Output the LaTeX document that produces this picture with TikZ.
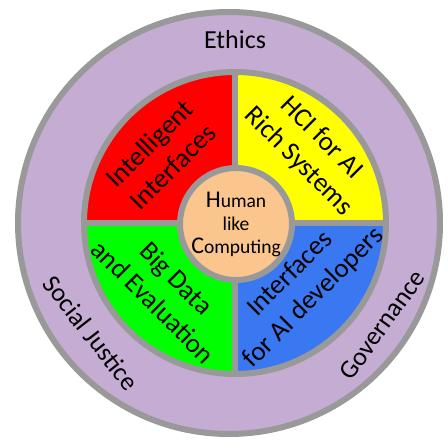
\documentclass[tikz,border=0pt]{standalone}
\usepackage{fontspec}
\setmainfont{Carlito}
\definecolor{ringgray}{RGB}{153,153,153}
\definecolor{lavender}{RGB}{196,172,211}
\definecolor{quadred}{RGB}{255,0,0}
\definecolor{quadyellow}{RGB}{255,255,0}
\definecolor{quadgreen}{RGB}{0,255,0}
\definecolor{quadblue}{RGB}{58,120,242}
\definecolor{peach}{RGB}{250,198,142}
\begin{document}
\begin{tikzpicture}[x=1pt,y=-1pt,
          rim/.style={draw=ringgray,line width=6pt},
          quadtext/.style={align=center,font=\fontsize{27}{33}\selectfont},
          ringtext/.style={font=\fontsize{26}{30}\selectfont}]
          \useasboundingbox (0,0) rectangle (448,446);
          %%% outer ring
          \draw[rim,fill=lavender] (229,223) circle[radius=211pt];
          %%% the four quadrants
          \coordinate (ctr) at (235,223);
          \fill[quadred] (ctr) -- ++(90:151pt) arc[start angle=90,end angle=180,radius=151pt] -- cycle;
          \fill[quadyellow] (ctr) -- ++(0:151pt) arc[start angle=0,end angle=90,radius=151pt] -- cycle;
          \fill[quadgreen] (ctr) -- ++(180:151pt) arc[start angle=180,end angle=270,radius=151pt] -- cycle;
          \fill[quadblue] (ctr) -- ++(270:151pt) arc[start angle=270,end angle=360,radius=151pt] -- cycle;
          \draw[rim] (ctr) circle[radius=151pt];
          \draw[rim] (ctr) +(90:151pt) -- +(270:151pt);
          \draw[rim] (ctr) +(180:151pt) -- +(0:151pt);
          %%% the hub
          \node[circle,rim,fill=peach,minimum size=112pt,inner sep=0pt,align=center,
                font=\fontsize{19.5}{23}\selectfont] (hlc) at (236,224)
          {{\fontsize{24}{23}\selectfont H}uman\\like\\{\fontsize{24}{23}\selectfont C}omputing};
          %%% quadrant labels
          \node[quadtext,rotate=45] (intel) at (161,155) {Intelligent\\Interfaces};
          \node[quadtext,rotate=-45] (hci) at (310,150) {HCI for AI\\Rich Systems};
          \node[quadtext,rotate=-45] (bigdata) at (165,290) {Big Data\\and Evaluation};
          \node[quadtext,rotate=45] (aidev) at (302,286) {Interfaces\\for AI developers};
          %%% ring labels
          \node[ringtext] (ethics) at (235,40) {Ethics};
          \node[ringtext,rotate=-52] (socjust) at (91,333) {Social Justice};
          \node[ringtext,rotate=54] (gov) at (382,325) {Governance};
\end{tikzpicture}
\end{document}
